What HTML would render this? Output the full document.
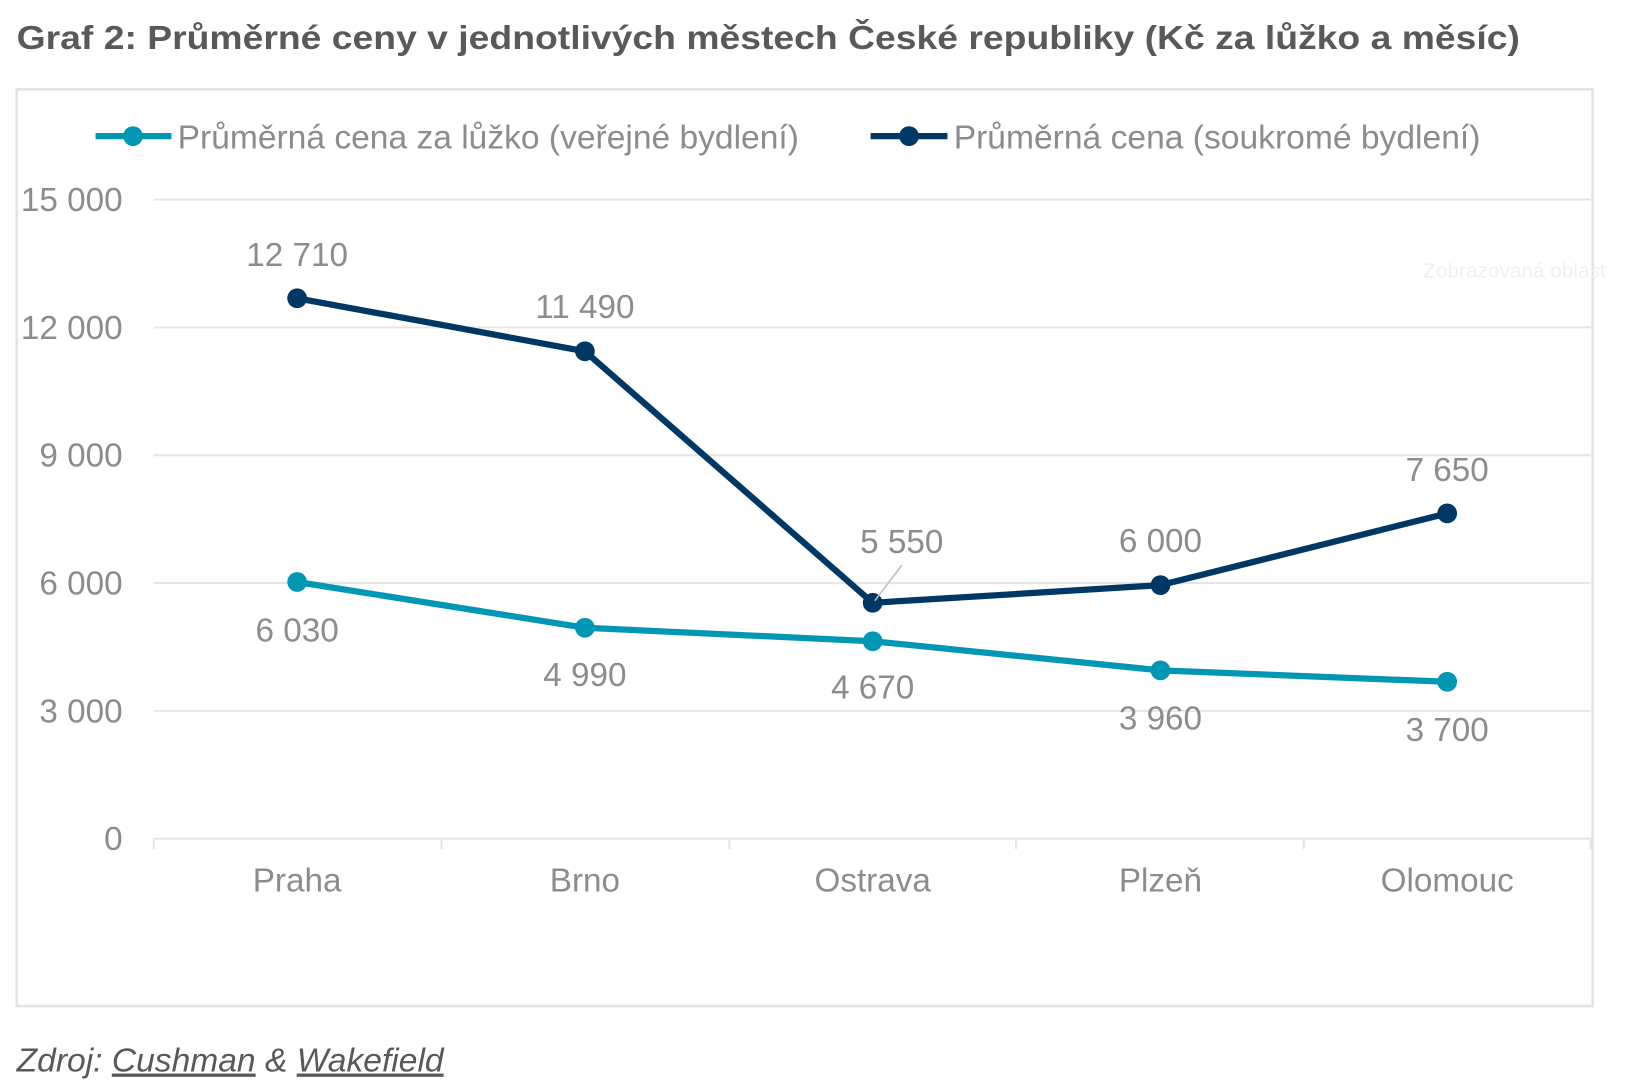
<!DOCTYPE html>
<html><head><meta charset="utf-8"><style>
html,body{margin:0;padding:0;background:#fff;}
svg{display:block;font-family:"Liberation Sans",sans-serif;}
</style></head><body>
<svg width="1629" height="1084" viewBox="0 0 1568 1043" preserveAspectRatio="none" xmlns="http://www.w3.org/2000/svg">
<rect width="1568" height="1043" fill="#fff"/>
<text x="16" y="47" font-size="32" font-weight="bold" fill="#595959" textLength="1447" lengthAdjust="spacingAndGlyphs">Graf 2: Průměrné ceny v jednotlivých městech České republiky (Kč za lůžko a měsíc)</text>
<rect x="16" y="86" width="1517" height="882" fill="none" stroke="#e3e3e3" stroke-width="2.5"/>
<g stroke="#e6e6e6" stroke-width="2">
<line x1="148" y1="192" x2="1531" y2="192"/>
<line x1="148" y1="315" x2="1531" y2="315"/>
<line x1="148" y1="438" x2="1531" y2="438"/>
<line x1="148" y1="561" x2="1531" y2="561"/>
<line x1="148" y1="684" x2="1531" y2="684"/>
<line x1="148" y1="807" x2="1531" y2="807"/>
<line x1="148" y1="807" x2="148" y2="817"/><line x1="425" y1="807" x2="425" y2="817"/>
<line x1="702" y1="807" x2="702" y2="817"/><line x1="978" y1="807" x2="978" y2="817"/>
<line x1="1255" y1="807" x2="1255" y2="817"/><line x1="1531" y1="807" x2="1531" y2="817"/>
</g>
<g font-size="32" fill="#8c8c8c" text-anchor="end">
<text x="118" y="203">15 000</text><text x="118" y="326">12 000</text><text x="118" y="449">9 000</text>
<text x="118" y="572">6 000</text><text x="118" y="695">3 000</text><text x="118" y="818">0</text>
</g>
<g font-size="32" fill="#8c8c8c" text-anchor="middle">
<text x="286" y="858">Praha</text><text x="563" y="858">Brno</text><text x="840" y="858">Ostrava</text>
<text x="1117" y="858">Plzeň</text><text x="1393" y="858">Olomouc</text>
</g>
<text x="1370" y="267" font-size="20" fill="#f0f0f0">Zobrazovaná oblast</text>
<line x1="92" y1="131" x2="165" y2="131" stroke="#0097b5" stroke-width="6"/>
<circle cx="128" cy="131" r="9.5" fill="#0097b5"/>
<text x="171" y="143" font-size="32" fill="#8c8c8c" textLength="598" lengthAdjust="spacingAndGlyphs">Průměrná cena za lůžko (veřejné bydlení)</text>
<line x1="838" y1="131" x2="912" y2="131" stroke="#003865" stroke-width="6"/>
<circle cx="875" cy="131" r="9.5" fill="#003865"/>
<text x="918" y="143" font-size="32" fill="#8c8c8c" textLength="507" lengthAdjust="spacingAndGlyphs">Průměrná cena (soukromé bydlení)</text>
<polyline points="286,560 563,604 840,617 1117,645 1393,656" fill="none" stroke="#0097b5" stroke-width="6"/>
<g fill="#0097b5"><circle cx="286" cy="560" r="9.5"/><circle cx="563" cy="604" r="9.5"/><circle cx="840" cy="617" r="9.5"/><circle cx="1117" cy="645" r="9.5"/><circle cx="1393" cy="656" r="9.5"/></g>
<polyline points="286,287 563,338 840,580 1117,563 1393,494" fill="none" stroke="#003865" stroke-width="6"/>
<g fill="#003865"><circle cx="286" cy="287" r="9.5"/><circle cx="563" cy="338" r="9.5"/><circle cx="840" cy="580" r="9.5"/><circle cx="1117" cy="563" r="9.5"/><circle cx="1393" cy="494" r="9.5"/></g>
<line x1="842" y1="578" x2="868" y2="544" stroke="#bfbfbf" stroke-width="1.5"/>
<g font-size="32" fill="#8c8c8c" text-anchor="middle">
<text x="286" y="256">12 710</text><text x="563" y="306">11 490</text><text x="868" y="532">5 550</text>
<text x="1117" y="531">6 000</text><text x="1393" y="463">7 650</text>
<text x="286" y="617">6 030</text><text x="563" y="660">4 990</text><text x="840" y="672">4 670</text>
<text x="1117" y="702">3 960</text><text x="1393" y="713">3 700</text>
</g>
<text x="16" y="1031" font-size="32" font-style="italic" fill="#595959" textLength="411" lengthAdjust="spacingAndGlyphs">Zdroj: <tspan text-decoration="underline">Cushman</tspan> &amp; <tspan text-decoration="underline">Wakefield</tspan></text>
</svg>
</body></html>
